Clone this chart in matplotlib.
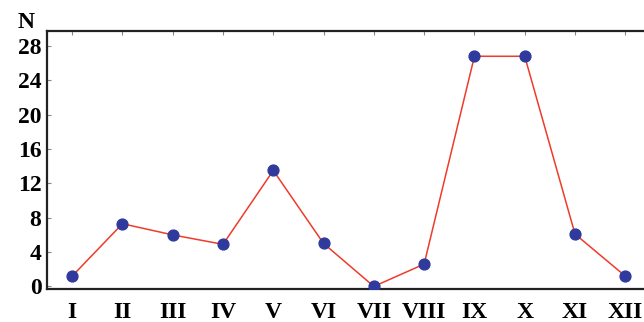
import matplotlib
matplotlib.use("Agg")
import matplotlib.pyplot as plt

months = ["I", "II", "III", "IV", "V", "VI", "VII", "VIII", "IX", "X", "XI", "XII"]
counts = [1.2, 7.3, 6.0, 4.9, 13.5, 5.0, 0.0, 2.6, 26.8, 26.8, 6.1, 1.2]
yticks = [0, 4, 8, 12, 16, 20, 24, 28]

plt.rcParams['font.family'] = ['Liberation Serif', 'DejaVu Serif']

fig = plt.figure(figsize=(6.44, 3.22), dpi=100)
ax = fig.add_axes([47/644, 1 - 289/322, 1 - 47/644 + 0.01, (289 - 30.5)/322])

x = list(range(1, len(months) + 1))
ax.plot(x, counts, color='#ee3b2a', lw=1.1, zorder=2)
ax.plot(x, counts, 'o', color='#2f3a9c', ms=7.8, zorder=3, mec='#2f3a9c')

ax.set_xlim(0.5, 12.5)
ax.set_ylim(-0.3, 29.8)
ax.set_yticks(yticks)
ax.set_yticklabels([str(v) for v in yticks], fontsize=17, fontweight='bold')
ax.set_xticks(x)
ax.set_xticklabels(months, fontsize=17, fontweight='bold')
ax.tick_params(axis='both', direction='in', length=3, color='#888888', width=0.8)
ax.tick_params(axis='y', pad=4)
ax.tick_params(axis='x', pad=9, top=True, bottom=False)
ax.spines['right'].set_visible(False)
for s in ['left', 'top', 'bottom']:
    ax.spines[s].set_linewidth(1.6)
    ax.spines[s].set_color('#222222')

fig.text(26/644, 1 - 23/322, 'N', fontsize=17, fontweight='bold', ha='center', va='center')

fig.savefig('out.png', dpi=100)
